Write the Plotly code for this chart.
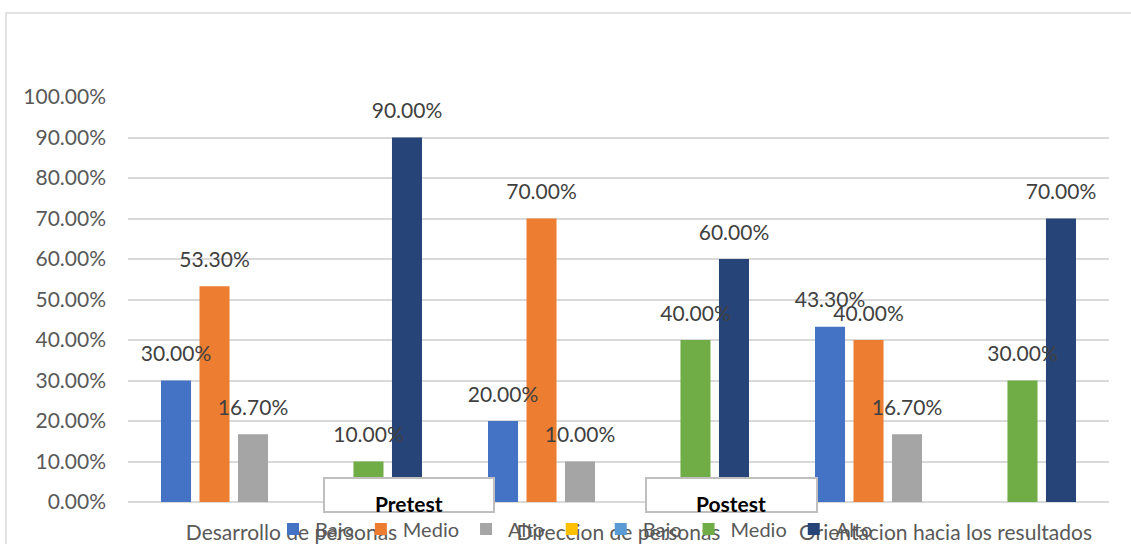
import plotly.graph_objects as go

categories = ["Desarrollo de personas", "Direccion de personas", "Orientacion hacia los resultados"]

series_names = ["Bajo", "Medio", "Alto", "", "Bajo", "Medio", "Alto"]
pre_bajo = [0.30, 0.20, 0.433]
pre_medio = [0.533, 0.70, 0.40]
pre_alto = [0.167, 0.10, 0.167]
post_vacio = [None, None, None]
post_bajo = [None, None, None]
post_medio = [0.10, 0.40, 0.30]
post_alto = [0.90, 0.60, 0.70]
series_values = [pre_bajo, pre_medio, pre_alto, post_vacio, post_bajo, post_medio, post_alto]
series_colors = ["#4472C4", "#ED7D31", "#A5A5A5", "#FFC000", "#5B9BD5", "#70AD47", "#264478"]

tick_vals = [i / 10 for i in range(11)]

FONT = "Lato, Carlito, Calibri, sans-serif"

fig = go.Figure()
for i, (name, vals, col) in enumerate(zip(series_names, series_values, series_colors)):
    fig.add_trace(go.Bar(
        x=categories, y=vals, name=name, marker=dict(color=col, line=dict(width=0)),
        offsetgroup=f"g{i}", alignmentgroup="a", hoverinfo="skip",
    ))
for i, vals in enumerate(series_values):
    fig.add_trace(go.Scatter(
        x=categories, y=vals, mode="markers+text", showlegend=False,
        marker=dict(size=21, opacity=0), offsetgroup=f"g{i}", alignmentgroup="a",
        texttemplate="%{y:.2%}", textposition="top center",
        textfont=dict(family=FONT, size=21, color="#404040"),
        cliponaxis=False, hoverinfo="skip",
    ))

pw, ph = 981, 405
def px(x):
    return (x - 128) / pw
def py(y):
    return (502 - y) / ph

shapes = [
    dict(type="rect", xref="paper", yref="paper", x0=px(6), x1=px(1140), y0=py(560), y1=py(13),
         line=dict(color="#D9D9D9", width=1.5), fillcolor="rgba(0,0,0,0)", layer="below"),
    dict(type="rect", xref="paper", yref="paper", x0=px(324), x1=px(494), y0=py(512), y1=py(478),
         line=dict(color="#BFBFBF", width=2), fillcolor="white", layer="above"),
    dict(type="rect", xref="paper", yref="paper", x0=px(646), x1=px(817), y0=py(512), y1=py(478),
         line=dict(color="#BFBFBF", width=2), fillcolor="white", layer="above"),
]
annotations = [
    dict(text="<b>Pretest</b>", xref="paper", yref="paper", x=px(409), y=py(503), showarrow=False,
         font=dict(family=FONT, size=21, color="black"), xanchor="center", yanchor="middle"),
    dict(text="<b>Postest</b>", xref="paper", yref="paper", x=px(731), y=py(503), showarrow=False,
         font=dict(family=FONT, size=21, color="black"), xanchor="center", yanchor="middle"),
]

fig.update_layout(
    width=1131, height=544,
    margin=dict(l=128, r=22, t=97, b=42, autoexpand=False),
    paper_bgcolor="white", plot_bgcolor="white",
    barmode="group", bargap=0.176, bargroupgap=0.22,
    scattermode="group", scattergap=0.176,
    font=dict(family=FONT, color="#595959"),
    showlegend=True,
    legend=dict(orientation="h", x=px(271), xanchor="left", y=py(529), yanchor="middle",
                font=dict(family=FONT, size=20, color="#595959"), bgcolor="rgba(0,0,0,0)",
                traceorder="normal", itemwidth=34),
    shapes=shapes, annotations=annotations,
    xaxis=dict(showgrid=False, showline=False, ticks="", automargin=False,
               tickfont=dict(family=FONT, size=21, color="#595959"), ticklabelstandoff=16),
    yaxis=dict(range=[0, 1], tickvals=tick_vals, tickformat=".2%", showgrid=True, gridcolor="#D9D9D9",
               automargin=False,
               gridwidth=1.5, zeroline=True, zerolinecolor="#D9D9D9", zerolinewidth=1.5, showline=False,
               ticks="", tickfont=dict(family=FONT, size=21, color="#595959"), ticklabelstandoff=21),
)

fig.write_html("out.html", config={"displayModeBar": False},
               post_script="document.body.style.margin='0px';document.body.style.overflow='hidden';")
